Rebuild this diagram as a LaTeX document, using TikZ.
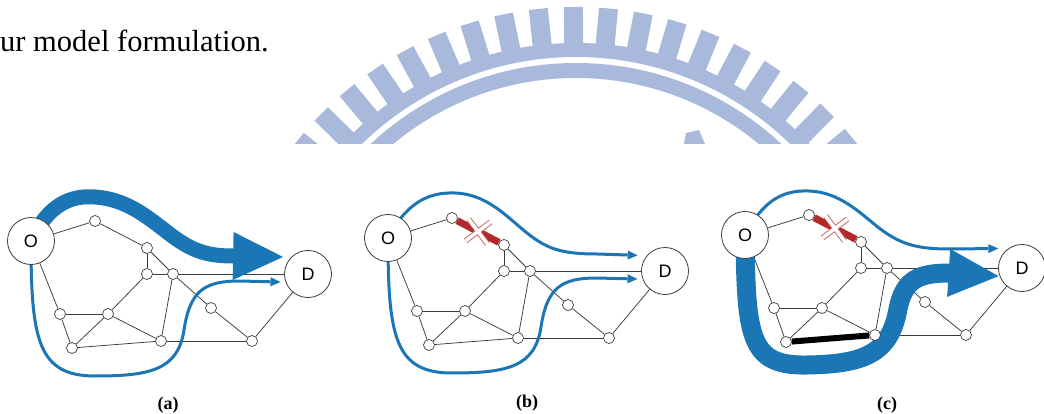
\documentclass[tikz,border=0pt]{standalone}
\usepackage{fontspec}
\setmainfont{Liberation Serif}
\newfontfamily\labelfont{Liberation Sans}
\usepackage{xcolor}
\usepackage{tikz}
\usetikzlibrary{arrows.meta,backgrounds,shapes.misc}
\definecolor{FlowBlue}{HTML}{1B76B6}
\definecolor{CutRed}{HTML}{B42828}
\definecolor{LinkGrey}{HTML}{3C3C3C}
\definecolor{SealBlue}{HTML}{A9B9DC}

\begin{document}
\begin{tikzpicture}[
  x=1pt,y=-1pt,
  terminal/.style={circle,draw=LinkGrey,fill=white,line width=0.8pt,minimum size=47pt,inner sep=0pt,font=\labelfont\fontsize{18}{18}\selectfont},
  junction/.style={circle,draw=LinkGrey,fill=white,line width=0.7pt,minimum size=11pt,inner sep=0pt},
  link/.style={draw=LinkGrey,line width=0.75pt},
  route/.style={draw=FlowBlue,line width=3pt,-{Triangle[length=10pt,width=9pt,line width=0pt]}},
  heavy/.style={draw=FlowBlue,line width=15pt,shorten >=8pt,-{Triangle[length=50pt,width=48pt,line width=0pt]}},
  cut/.style={draw=CutRed,line width=7pt},
  cross/.style={cross out,draw=CutRed!75,double=white,double distance=3.6pt,line width=0.9pt,minimum size=22pt,inner sep=0pt,outer sep=0pt,rotate=-8},
  blocked/.style={draw=black,line width=6pt},
  caption/.style={font=\bfseries\fontsize{18}{18}\selectfont}
]
\useasboundingbox (0,0) rectangle (1044,414);
\begin{scope}[on background layer]
  \fill[white] (0,0) rectangle (1044,414);
\end{scope}

\node[anchor=base west,inner sep=0pt,font=\fontsize{30.5}{36}\selectfont] (lead) at (0,52) {ur model formulation.};

% seal in the page background
\begin{scope}
  \clip (0,0) rectangle (1044,144);
  \begin{scope}[shift={(576,364)},yscale=-1]
    \draw[SealBlue,line width=15pt] (0,0) circle[radius=293.5];
    \draw[SealBlue,line width=14pt] (0,0) circle[radius=314];
    \foreach \k in {-2,...,17}
      \draw[SealBlue,line width=19pt] ({45.3+5.64*\k}:320) -- ({45.3+5.64*\k}:357);
  \end{scope}
  \fill[SealBlue] (686,133) -- (699,130) -- (705,144) -- (684,144) -- cycle;
\end{scope}

% the three networks
\foreach \p/\dx/\dy/\cx/\cy in {a/0/0/168/405,b/357/-3/527/403,c/714/-6/887/405}{
  \begin{scope}[shift={(\dx,\dy)}]
    \node[terminal] (\p-O) at (31,241) {O};
    \node[terminal] (\p-D) at (308,274) {D};
    \foreach \i/\x/\y in {1/95/221,2/147/248,3/147/274,4/173/274,5/60/314,6/108/314,7/72/348,8/161/341,9/211/308,10/252/341}
      \node[junction] (\p-\i) at (\x,\y) {};
  \end{scope}
  \node[caption] (\p-cap) at (\cx,\cy) {(\p)};
}

\begin{scope}[on background layer]
  \foreach \p in {a,b,c}
    \foreach \s/\t in {O/1,1/2,2/3,2/4,3/4,4/D,4/9,9/10,10/D,O/5,5/6,5/7,6/7,6/3,6/8,4/8,7/8,8/10}
      \draw[link] (\p-\s) -- (\p-\t);
  % broken link
  \foreach \p in {b,c}
    \draw[cut] (\p-1) -- node[cross] {} (\p-2);
  \draw[blocked] (c-7) -- (c-8);

  % (a)
  \draw[heavy] (a-O.center) .. controls (48,205) and (70,195) .. (95,197) .. controls (125,199) and (145,215) .. (167,232) .. controls (190,250) and (205,256) .. (233,256) -- (a-D.135);
  \draw[route,shorten >=5pt] (a-O.center) .. controls (31,340) and (38,376) .. (95,376) .. controls (150,376) and (178,370) .. (184,330) .. controls (190,290) and (205,281) .. (240,281) -- (a-D.200);

  % (b)
  \begin{scope}[shift={(357,-3)}]
    \draw[route,shorten >=9pt] (b-O.center) .. controls (50,205) and (72,195) .. (98,196) .. controls (130,197) and (150,220) .. (170,236) .. controls (190,252) and (205,257) .. (240,257) -- (b-D.140);
    \draw[route,shorten >=5pt] (b-O.center) .. controls (31,340) and (38,376) .. (95,376) .. controls (150,376) and (178,370) .. (184,330) .. controls (190,290) and (205,281) .. (240,281) -- (b-D.200);
  \end{scope}

  % (c)
  \begin{scope}[shift={(714,-6)}]
    \draw[route,shorten >=10pt] (c-O.center) .. controls (50,205) and (70,196) .. (95,197) .. controls (125,198) and (145,218) .. (165,234) .. controls (185,249) and (200,255) .. (235,255) -- (c-D.125);
    \draw[heavy,line width=19pt,shorten >=1pt] (c-O.center) .. controls (32,345) and (36,372) .. (93,371) .. controls (150,370) and (176,360) .. (184,315) .. controls (190,285) and (205,279) .. (236,279) -- (c-D.200);
  \end{scope}
\end{scope}
\end{tikzpicture}
\end{document}
